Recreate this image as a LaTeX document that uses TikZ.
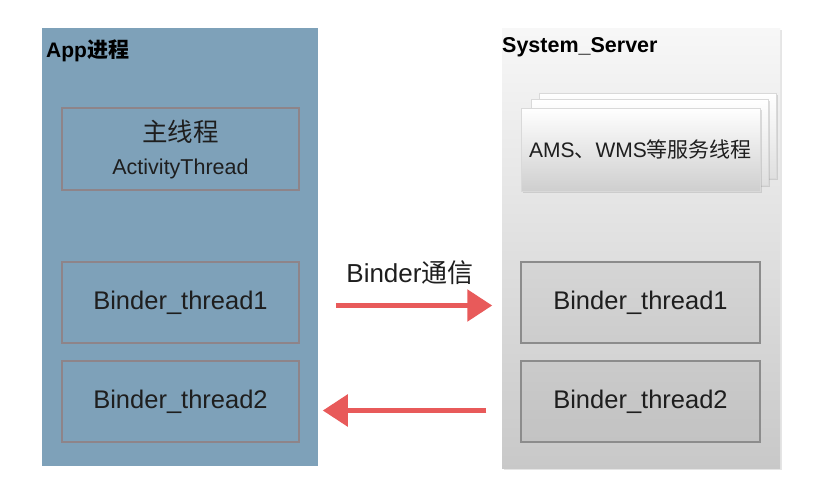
\documentclass[tikz,border=0pt]{standalone}
\usepackage{fontspec}
\setmainfont{Liberation Sans}
\newfontfamily\cjk{Noto Sans CJK SC}
\usetikzlibrary{arrows.meta, shadows}
\definecolor{appblue}{HTML}{7EA1B9}
\definecolor{thrborder}{HTML}{8E8489}
\definecolor{grayborder}{HTML}{8C8C8C}
\definecolor{chalkred}{HTML}{E85A5A}
\definecolor{inktext}{HTML}{1E1E1E}

\begin{document}
\begin{tikzpicture}[x=1pt, y=-1pt,
  threadbox/.style={draw=thrborder, line width=1.5pt, inner sep=0pt,
    minimum width=237pt, minimum height=81pt, text=inktext,
    font=\fontsize{25.5}{30}\selectfont},
  rthreadbox/.style={threadbox, draw=grayborder, minimum width=239pt,
    fill=black, fill opacity=0.04, text opacity=1},
  svccard/.style={draw=gray!30, line width=0.5pt, inner sep=0pt,
    minimum width=237pt, top color=white, bottom color=gray!25,
    drop shadow={opacity=0.25, shadow xshift=1.5pt, shadow yshift=-2pt}},
  binderarrow/.style={draw=chalkred, line width=5.5pt,
    -{Triangle[length=25pt, width=31pt]}}]

\useasboundingbox (0,0) rectangle (836,485);
\fill[white] (0,0) rectangle (836,485);

% Process frames
\node[fill=appblue, minimum width=276pt, minimum height=438pt, inner sep=0pt]
  (appproc) at (180,247) {};
\node[top color=gray!6, bottom color=gray!43, minimum width=278pt,
  minimum height=440pt, inner sep=0pt,
  drop shadow={opacity=0.2, shadow xshift=2pt, shadow yshift=-2pt}]
  (sysproc) at (641,248) {};

% Frame titles
\node[anchor=west, inner sep=0pt, font=\fontsize{21}{25}\selectfont\bfseries]
  (apptitle) at (46,51) {App{\cjk 进程}};
\node[anchor=west, inner sep=0pt, font=\fontsize{21.5}{25}\selectfont\bfseries]
  (systitle) at (502,47) {System\_Server};

% App threads
\node[threadbox, minimum height=82pt, align=center] (mainthr) at (180.5,149)
  {{\cjk 主线程}\\[3pt]{\fontsize{21.5}{25}\selectfont ActivityThread}};
\node[threadbox] (lbt1) at (180.5,302.5) {Binder\_thread1};
\node[threadbox] (lbt2) at (180.5,401.5) {Binder\_thread2};

% System_Server service threads (stacked)
\node[svccard, minimum height=85pt] (card3) at (657.5,135.5) {};
\node[svccard, minimum height=86pt] (card2) at (649.5,142) {};
\node[svccard, minimum width=239pt, minimum height=83pt, bottom color=gray!38,
  text=inktext, font=\fontsize{21}{25}\selectfont]
  (amscard) at (640.5,149.5) {AMS{\cjk 、}WMS{\cjk 等服务线程}};

% System_Server binder threads
\node[rthreadbox] (rbt1) at (640.5,302.5) {Binder\_thread1};
\node[rthreadbox] (rbt2) at (640.5,401.5) {Binder\_thread2};

% Binder communication
\node[text=inktext, font=\fontsize{26}{30}\selectfont] (commlabel) at (410,273)
  {Binder{\cjk 通信}};
\draw[binderarrow, shorten <=36pt, shorten >=28pt]
  ([yshift=-3pt]lbt1.east) -- ([yshift=-3pt]rbt1.west);
\draw[binderarrow, shorten <=34pt, shorten >=23pt]
  ([yshift=-9pt]rbt2.west) -- ([yshift=-9pt]lbt2.east);

\end{tikzpicture}
\end{document}
